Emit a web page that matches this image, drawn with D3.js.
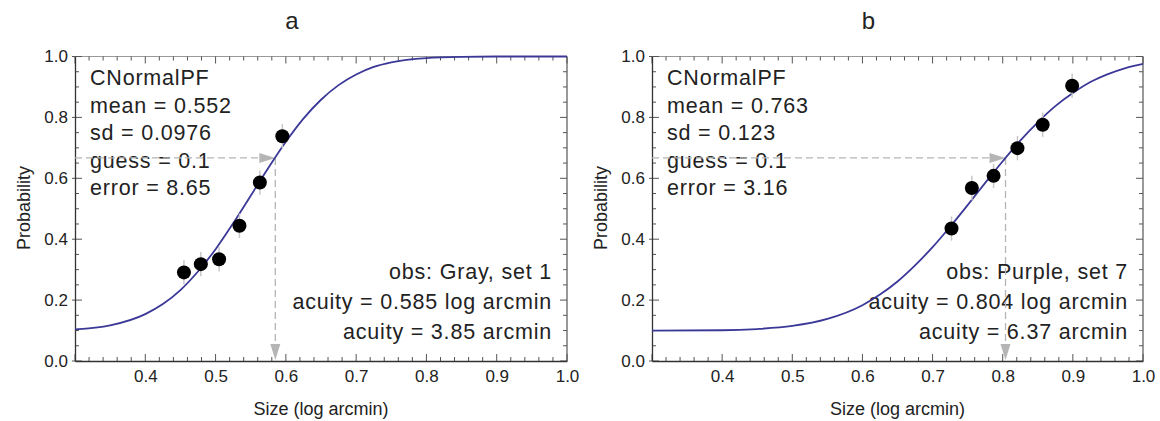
<!DOCTYPE html>
<html><head><meta charset="utf-8">
<script src="https://cdn.jsdelivr.net/npm/d3@7"></script>
<style>
html,body{margin:0;padding:0;background:#fff;}
text{font-family:"Liberation Sans",Arial,Helvetica,sans-serif;fill:#222;}
</style></head>
<body><svg id="c" width="1160" height="421"></svg>
<script>
// ---- data ----
const panelTitles = ["a", "b"];
const sizesA = [0.455, 0.479, 0.505, 0.534, 0.563, 0.595];
const probsA = [0.291, 0.318, 0.334, 0.444, 0.586, 0.738];
const errA   = [0.04, 0.04, 0.04, 0.04, 0.04, 0.04];
const sizesB = [0.727, 0.756, 0.787, 0.821, 0.857, 0.899];
const probsB = [0.435, 0.568, 0.608, 0.699, 0.776, 0.904];
const errB   = [0.04, 0.04, 0.04, 0.04, 0.04, 0.04];
// fitted curve samples
const curveXA = [0.30, 0.35, 0.40, 0.425, 0.45, 0.475, 0.50, 0.525, 0.55, 0.575, 0.60, 0.625, 0.65, 0.675, 0.70, 0.725, 0.75, 0.80, 0.85, 0.90, 1.00];
const curveYA = [0.104, 0.117, 0.154, 0.187, 0.233, 0.294, 0.367, 0.452, 0.543, 0.634, 0.720, 0.796, 0.858, 0.906, 0.941, 0.966, 0.981, 0.995, 0.999, 1.000, 1.000];
const curveXB = [0.30, 0.40, 0.45, 0.50, 0.55, 0.60, 0.625, 0.65, 0.675, 0.70, 0.725, 0.75, 0.775, 0.80, 0.825, 0.85, 0.875, 0.90, 0.925, 0.95, 0.975, 1.00];
const curveYB = [0.100, 0.101, 0.105, 0.115, 0.138, 0.183, 0.218, 0.261, 0.314, 0.374, 0.441, 0.512, 0.585, 0.656, 0.724, 0.784, 0.837, 0.880, 0.916, 0.942, 0.962, 0.976];
const acuityA = 0.585, acuityB = 0.804, thresholdP = 0.667;
const infoA = ["CNormalPF", "mean = 0.552", "sd = 0.0976", "guess = 0.1", "error = 8.65"];
const infoB = ["CNormalPF", "mean = 0.763", "sd = 0.123", "guess = 0.1", "error = 3.16"];
const obsA = ["obs: Gray, set 1", "acuity = 0.585 log arcmin", "acuity = 3.85 arcmin"];
const obsB = ["obs: Purple, set 7", "acuity = 0.804 log arcmin", "acuity = 6.37 arcmin"];
const xTickVals = [0.4, 0.5, 0.6, 0.7, 0.8, 0.9, 1.0];
const yTickVals = [0.0, 0.2, 0.4, 0.6, 0.8, 1.0];
const xLabel = "Size (log arcmin)", yLabel = "Probability";

const svg = d3.select("#c");

function panel(o) {
  const x = d3.scaleLinear().domain([0.3, 1.0]).range([o.left, o.right]);
  const y = d3.scaleLinear().domain([0, 1]).range([361, 56.5]);
  const g = svg.append("g");

  // frame
  g.append("line").attr("x1", o.left).attr("x2", o.right).attr("y1", y(1)).attr("y2", y(1)).attr("stroke", "#999").attr("stroke-width", 1.2);
  g.append("line").attr("x1", o.right).attr("x2", o.right).attr("y1", y(0)).attr("y2", y(1)).attr("stroke", "#555").attr("stroke-width", 1.2);

  // ticks
  const xMinor = d3.range(0.30, 1.0001, 0.02);
  const yMinor = d3.range(0, 1.0001, 0.05);
  const tickC = "#555";
  xMinor.forEach(v => {
    const maj = Math.abs(v * 10 - Math.round(v * 10)) < 1e-6;
    const L = maj ? 7 : 4;
    g.append("line").attr("x1", x(v)).attr("x2", x(v)).attr("y1", y(0)).attr("y2", y(0) - L).attr("stroke", tickC).attr("stroke-width", 1);
    g.append("line").attr("x1", x(v)).attr("x2", x(v)).attr("y1", y(1)).attr("y2", y(1) + L).attr("stroke", tickC).attr("stroke-width", 1);
  });
  yMinor.forEach(v => {
    const maj = Math.abs(v * 5 - Math.round(v * 5)) < 1e-6;
    const L = maj ? 7 : 4;
    g.append("line").attr("y1", y(v)).attr("y2", y(v)).attr("x1", o.left - (maj ? 3 : 0)).attr("x2", o.left + L).attr("stroke", tickC).attr("stroke-width", 1);
    g.append("line").attr("y1", y(v)).attr("y2", y(v)).attr("x1", o.right).attr("x2", o.right - L).attr("stroke", tickC).attr("stroke-width", 1);
  });

  // axes with labels
  const xa = g.append("g").attr("transform", `translate(0,${y(0)})`)
    .call(d3.axisBottom(x).tickValues(xTickVals).tickFormat(d3.format(".1f")).tickSize(0).tickPadding(9));
  xa.select(".domain").attr("stroke", "#333").attr("stroke-width", 1.3);
  xa.selectAll("text").attr("font-size", 17).attr("fill", "#222").style("font-family", "Liberation Sans, Arial, sans-serif");
  const ya = g.append("g").attr("transform", `translate(${o.left},0)`)
    .call(d3.axisLeft(y).tickValues(yTickVals).tickFormat(d3.format(".1f")).tickSize(0).tickPadding(7));
  ya.select(".domain").attr("stroke", "#333").attr("stroke-width", 1.3);
  ya.selectAll("text").attr("font-size", 17).attr("fill", "#222").style("font-family", "Liberation Sans, Arial, sans-serif");

  // axis titles
  g.append("text").attr("x", (o.left + o.right) / 2).attr("y", 415).attr("text-anchor", "middle").attr("font-size", 18).text(xLabel);
  g.append("text").attr("transform", `translate(${o.left - 45},${208}) rotate(-90)`).attr("text-anchor", "middle").attr("font-size", 18).text(yLabel);
  g.append("text").attr("x", (o.left + o.right) / 2 - 29).attr("y", 29).attr("text-anchor", "middle").attr("font-size", 24).text(o.title);

  // info text
  o.info.forEach((t, i) => {
    g.append("text").attr("x", o.left + 15).attr("y", 85 + i * 27.5).attr("font-size", 21.5).attr("letter-spacing", 0.8).text(t);
  });
  o.obs.forEach((t, i) => {
    g.append("text").attr("x", o.right - 15).attr("y", 278.5 + i * 30).attr("text-anchor", "end").attr("font-size", 21.5).attr("letter-spacing", 0.8).text(t);
  });

  // arrows
  const ac = "#b5b5b5";
  g.append("line").attr("x1", x(0.3)).attr("x2", x(o.acuity) - 14).attr("y1", y(thresholdP)).attr("y2", y(thresholdP))
    .attr("stroke", ac).attr("stroke-width", 1.3).attr("stroke-dasharray", "7,4");
  g.append("path").attr("d", `M${x(o.acuity)},${y(thresholdP)} l-16,-5 l0,10 z`).attr("fill", ac);
  g.append("line").attr("x1", x(o.acuity)).attr("x2", x(o.acuity)).attr("y1", y(thresholdP)).attr("y2", y(0) - 14)
    .attr("stroke", ac).attr("stroke-width", 1.3).attr("stroke-dasharray", "7,4");
  g.append("path").attr("d", `M${x(o.acuity)},${y(0) - 1} l-5,-16 l10,0 z`).attr("fill", ac);

  // curve
  const line = d3.line().x(d => x(d[0])).y(d => y(d[1])).curve(d3.curveMonotoneX);
  g.append("path").datum(d3.zip(o.cx, o.cy)).attr("d", line).attr("fill", "none").attr("stroke", "#3b3898").attr("stroke-width", 1.8);

  // error bars & points
  const pts = d3.zip(o.sx, o.py, o.err);
  g.selectAll(".eb").data(pts).enter().append("line")
    .attr("x1", d => x(d[0])).attr("x2", d => x(d[0])).attr("y1", d => y(d[1] + d[2])).attr("y2", d => y(d[1] - d[2]))
    .attr("stroke", "#c8c8c8").attr("stroke-width", 1.5);
  g.selectAll(".pt").data(pts).enter().append("circle")
    .attr("cx", d => x(d[0])).attr("cy", d => y(d[1])).attr("r", 7).attr("fill", "#000");
}

panel({left: 75, right: 567, title: panelTitles[0], info: infoA, obs: obsA, acuity: acuityA,
  sx: sizesA, py: probsA, err: errA, cx: curveXA, cy: curveYA});
panel({left: 652, right: 1143, title: panelTitles[1], info: infoB, obs: obsB, acuity: acuityB,
  sx: sizesB, py: probsB, err: errB, cx: curveXB, cy: curveYB});
</script></body></html>
